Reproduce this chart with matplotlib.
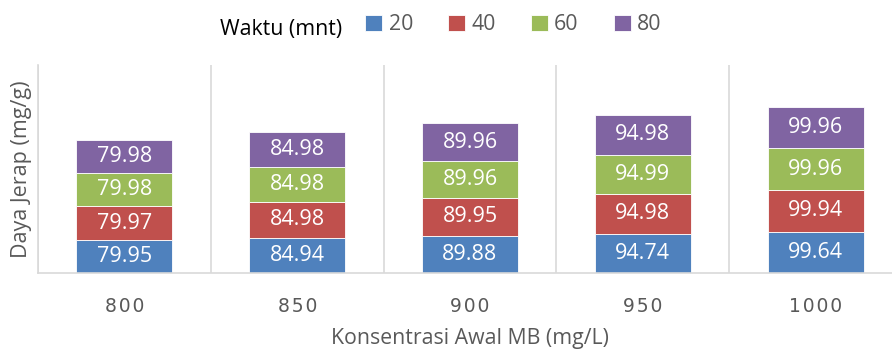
import matplotlib
matplotlib.use("Agg")
import matplotlib.pyplot as plt
import numpy as np

plt.rcParams['font.family'] = ['Open Sans', 'DejaVu Sans']

categories = ["800", "850", "900", "950", "1000"]
series_names = ["20", "40", "60", "80"]
s20 = [79.95, 84.94, 89.88, 94.74, 99.64]
s40 = [79.97, 84.98, 89.95, 94.98, 99.94]
s60 = [79.98, 84.98, 89.96, 94.99, 99.96]
s80 = [79.98, 84.98, 89.96, 94.98, 99.96]
colors = ["#4F81BD", "#C0504D", "#9BBB59", "#8064A2"]

W, H = 892, 349
fig = plt.figure(figsize=(W / 100, H / 100), dpi=100)
ax = fig.add_axes([38 / W, 1 - 273 / H, 864 / W, 208 / H])

x = np.arange(len(categories))
bottom = np.zeros(len(categories))
handles = []
for name, vals, col in zip(series_names, [s20, s40, s60, s80], colors):
    vals = np.array(vals)
    bars = ax.bar(x, vals, bottom=bottom, width=0.556, color=col,
                  edgecolor="white", linewidth=0.6, label=name)
    handles.append(bars)
    for xi, b, v in zip(x, bottom, vals):
        ax.text(xi, b + v / 2, f"{v:.2f}", ha="center", va="center",
                color="white", fontsize=15.5)
    bottom += vals

ax.set_xlim(-0.5, 4.5)
ax.set_ylim(0, 500)
ax.set_yticks([])

# category separators
for b in np.arange(-0.5, 5.0, 1.0):
    ax.axvline(b, color="#D9D9D9", linewidth=1.2, zorder=0)

for s in ["top", "right"]:
    ax.spines[s].set_visible(False)
ax.spines["left"].set_color("#D9D9D9")
ax.spines["bottom"].set_color("#D9D9D9")
ax.spines["left"].set_linewidth(1.2)
ax.spines["bottom"].set_linewidth(1.2)

ax.set_xticks(x)
ax.set_xticklabels(["\u200a".join(c) for c in categories],
                   family=['DejaVu Sans'], fontsize=13.5, color="#595959")
ax.tick_params(axis="x", length=0, pad=17)

ax.set_xlabel("Konsentrasi Awal MB (mg/L)", fontsize=15.3, color="#595959", labelpad=9)
ax.set_ylabel("Daya Jerap (mg/g)", fontsize=15.5, color="#595959", labelpad=4)

fig.text(220 / W, 1 - 29 / H, "Waktu (mnt)", fontsize=15.3, color="black",
         ha="left", va="center")
leg = fig.legend(handles=handles, labels=series_names, ncol=4, frameon=False,
                 loc="center left", bbox_to_anchor=(346 / W, 1 - 25 / H),
                 fontsize=15.3, handlelength=0.8, handleheight=0.8,
                 handletextpad=0.3, columnspacing=1.65, labelcolor="#595959")

fig.savefig("out.png", dpi=100)
